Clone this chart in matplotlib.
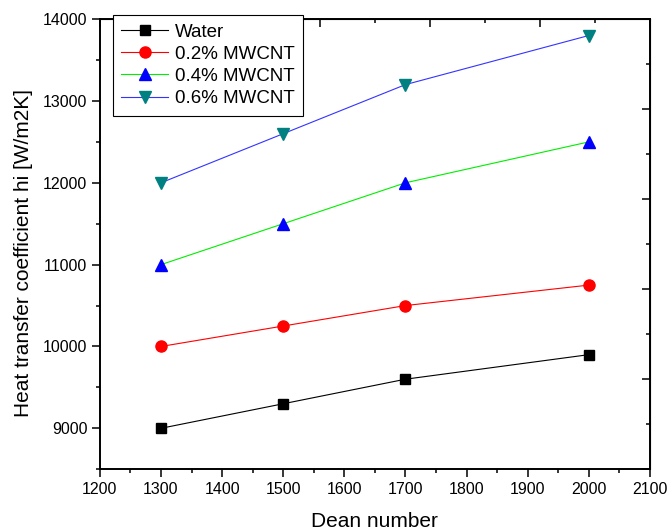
import matplotlib
matplotlib.use('Agg')
import matplotlib.pyplot as plt
from matplotlib.ticker import MultipleLocator

plt.rcParams['font.family'] = ['Liberation Sans', 'DejaVu Sans']

dean = [1300, 1500, 1700, 2000]
water = [9000, 9300, 9600, 9900]
mwcnt_02 = [10000, 10250, 10500, 10750]
mwcnt_04 = [11000, 11500, 12000, 12500]
mwcnt_06 = [12000, 12600, 13200, 13800]


def graf():
    fig = plt.figure(figsize=(6.7, 5.32), dpi=100)
    ax = fig.add_axes([0.149, 0.118, 0.821, 0.846])

    ax.plot(dean, water, color='black', lw=0.8, marker='s', ms=7,
            mfc='black', mec='black', label='Water')
    ax.plot(dean, mwcnt_02, color='red', lw=0.8, marker='o', ms=8,
            mfc='red', mec='red', label='0.2% MWCNT')
    ax.plot(dean, mwcnt_04, color='#00ee00', lw=0.8, marker='^', ms=9,
            mfc='blue', mec='blue', label='0.4% MWCNT')
    ax.plot(dean, mwcnt_06, color='#3333ff', lw=0.8, marker='v', ms=9,
            mfc='#008080', mec='#008080', label='0.6% MWCNT')

    ax.set_xlim(1200, 2100)
    ax.set_ylim(8500, 14000)
    ax.xaxis.set_major_locator(MultipleLocator(100))
    ax.xaxis.set_minor_locator(MultipleLocator(50))
    ax.yaxis.set_major_locator(MultipleLocator(1000))
    ax.yaxis.set_minor_locator(MultipleLocator(500))

    ax.tick_params(which='both', direction='out', width=1.1, labelsize=11.5)
    ax.tick_params(which='major', length=5.5)
    ax.tick_params(which='minor', length=3)
    for s in ax.spines.values():
        s.set_linewidth(1.4)

    # top / right axes: inward ticks on their own 0..1 scale, no labels
    axt = ax.secondary_xaxis('top', functions=(lambda x: (x - 1200) / 900, lambda f: f * 900 + 1200))
    axt.xaxis.set_major_locator(MultipleLocator(0.2))
    axt.xaxis.set_minor_locator(MultipleLocator(0.1))
    axt.tick_params(which='both', direction='in', labeltop=False, width=1.1)
    axt.tick_params(which='major', length=5.5)
    axt.tick_params(which='minor', length=3)
    axr = ax.secondary_yaxis('right', functions=(lambda y: (y - 8500) / 5500, lambda f: f * 5500 + 8500))
    axr.yaxis.set_major_locator(MultipleLocator(0.2))
    axr.yaxis.set_minor_locator(MultipleLocator(0.1))
    axr.tick_params(which='both', direction='in', labelright=False, width=1.1)
    axr.tick_params(which='major', length=5.5)
    axr.tick_params(which='minor', length=3)

    ax.set_xlabel('Dean number', fontsize=15, labelpad=11)
    ax.set_ylabel('Heat transfer coefficient hi [W/m2K]', fontsize=15)
    ax.yaxis.set_label_coords(-0.122, 0.48)

    leg = ax.legend(loc='upper left', fontsize=13.5, frameon=True, fancybox=False,
                    edgecolor='black', framealpha=1, borderpad=0.45,
                    handlelength=2.5, handletextpad=0.35, labelspacing=0.27,
                    borderaxespad=0, bbox_to_anchor=(0.024, 1.009))
    leg.get_frame().set_linewidth(0.8)

    fig.savefig('out.png', dpi=100)


if __name__ == '__main__':
    graf()
